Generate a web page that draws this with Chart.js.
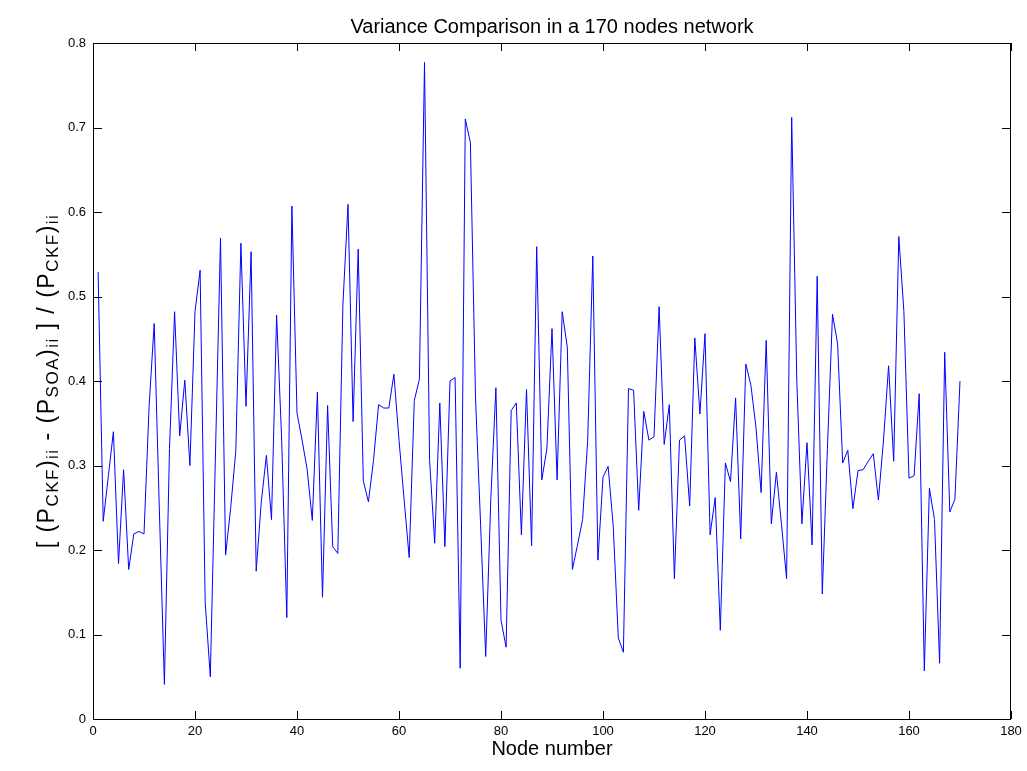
<!DOCTYPE html>
<html>
<head>
<meta charset="utf-8">
<script src="https://cdn.jsdelivr.net/npm/chart.js@4.4.1/dist/chart.umd.min.js"></script>
<style>
  html, body { margin: 0; padding: 0; background: #fff; }
  #wrap { width: 1027px; height: 771px; }
</style>
</head>
<body>
<div id="wrap"><canvas id="chart" width="1027" height="771"></canvas></div>
<script>
// relative variance difference per node
const nodeValues = [
  0.529, 0.234, 0.287, 0.340, 0.184, 0.295, 0.177, 0.219, 0.222, 0.219,
  0.370, 0.468, 0.250, 0.041, 0.320, 0.482, 0.335, 0.401, 0.300, 0.482,
  0.531, 0.138, 0.050, 0.310, 0.569, 0.194, 0.250, 0.317, 0.563, 0.370,
  0.553, 0.175, 0.257, 0.312, 0.236, 0.478, 0.330, 0.120, 0.607, 0.362,
  0.330, 0.295, 0.235, 0.387, 0.144, 0.371, 0.204, 0.196, 0.490, 0.609,
  0.352, 0.556, 0.282, 0.257, 0.306, 0.372, 0.368, 0.368, 0.408, 0.330,
  0.260, 0.191, 0.377, 0.402, 0.777, 0.306, 0.208, 0.374, 0.204, 0.400,
  0.404, 0.060, 0.710, 0.682, 0.380, 0.230, 0.074, 0.260, 0.392, 0.117,
  0.085, 0.365, 0.374, 0.218, 0.390, 0.205, 0.559, 0.283, 0.320, 0.462,
  0.283, 0.482, 0.440, 0.177, 0.206, 0.236, 0.330, 0.548, 0.188, 0.286,
  0.299, 0.229, 0.096, 0.079, 0.391, 0.389, 0.247, 0.364, 0.330, 0.334,
  0.488, 0.325, 0.372, 0.166, 0.330, 0.335, 0.252, 0.451, 0.361, 0.456,
  0.218, 0.262, 0.105, 0.303, 0.281, 0.380, 0.213, 0.420, 0.395, 0.345,
  0.268, 0.448, 0.231, 0.292, 0.230, 0.166, 0.712, 0.400, 0.231, 0.327,
  0.206, 0.524, 0.148, 0.320, 0.479, 0.444, 0.303, 0.318, 0.249, 0.294,
  0.295, 0.305, 0.314, 0.259, 0.330, 0.418, 0.305, 0.571, 0.482, 0.285,
  0.288, 0.385, 0.057, 0.273, 0.236, 0.066, 0.434, 0.245, 0.260, 0.400
];
const nodeNumbers = nodeValues.map((v, i) => i + 1);
const xTicks = [0, 20, 40, 60, 80, 100, 120, 140, 160, 180];
const yTicks = [0, 0.1, 0.2, 0.3, 0.4, 0.5, 0.6, 0.7, 0.8];

const titleText = 'Variance Comparison in a 170 nodes network';
const xLabelText = 'Node number';
// [ (P_CKF)_ii - (P_SOA)_ii ] / (P_CKF)_ii, as text / subscript pieces
const yLabelParts = [
  ['[ (P', false], ['CKF', true], [')', false], ['ii', true],
  [' - (P', false], ['SOA', true], [')', false], ['ii', true],
  [' ] / (P', false], ['CKF', true], [')', false], ['ii', true]
];

const FONT = 'Arial, "Liberation Sans", Helvetica, sans-serif';

// box, inward ticks on all sides, title and axis labels
const matlabFrame = {
  id: 'matlabFrame',
  afterDraw(chart) {
    const { ctx, chartArea: a, scales } = chart;
    ctx.save();
    ctx.strokeStyle = '#000';
    ctx.lineWidth = 1;
    ctx.strokeRect(Math.round(a.left) + 0.5, Math.round(a.top) + 0.5,
      Math.round(a.right - a.left) - 1, Math.round(a.bottom - a.top));

    ctx.beginPath();
    xTicks.forEach(t => {
      const x = Math.round(scales.x.getPixelForValue(t)) + 0.5;
      ctx.moveTo(x, a.bottom); ctx.lineTo(x, a.bottom - 8);
      ctx.moveTo(x, a.top); ctx.lineTo(x, a.top + 8);
    });
    yTicks.forEach(t => {
      const y = Math.round(scales.y.getPixelForValue(t)) + 0.5;
      ctx.moveTo(a.left, y); ctx.lineTo(a.left + 9, y);
      ctx.moveTo(a.right, y); ctx.lineTo(a.right - 9, y);
    });
    ctx.stroke();

    const cx = (a.left + a.right) / 2;
    ctx.fillStyle = '#000';
    ctx.textAlign = 'center';
    ctx.textBaseline = 'middle';
    ctx.font = '20px ' + FONT;
    ctx.fillText(titleText, cx, 27);
    ctx.font = '20px ' + FONT;
    ctx.fillText(xLabelText, cx, 749);

    // rotated y label with subscripts
    const big = '23px ' + FONT, small = '17px ' + FONT;
    ctx.letterSpacing = '1.5px';
    let total = 0;
    yLabelParts.forEach(([s, sub]) => {
      ctx.font = sub ? small : big;
      total += ctx.measureText(s).width;
    });
    ctx.translate(46, (a.top + a.bottom) / 2);
    ctx.rotate(-Math.PI / 2);
    ctx.textAlign = 'left';
    ctx.textBaseline = 'alphabetic';
    let pos = -total / 2;
    yLabelParts.forEach(([s, sub]) => {
      ctx.font = sub ? small : big;
      ctx.fillText(s, pos, sub ? 12 : 8);
      pos += ctx.measureText(s).width;
    });
    ctx.restore();
  }
};

new Chart(document.getElementById('chart'), {
  type: 'line',
  data: {
    labels: nodeNumbers,
    datasets: [{
      data: nodeValues.map((v, i) => ({ x: nodeNumbers[i], y: v })),
      borderColor: '#0000ff',
      borderWidth: 1,
      pointRadius: 0,
      tension: 0,
      fill: false
    }]
  },
  options: {
    responsive: false,
    animation: false,
    layout: { padding: { left: 0, top: 43, right: 16, bottom: 0 } },
    plugins: { legend: { display: false }, tooltip: { enabled: false } },
    scales: {
      x: {
        type: 'linear', min: 0, max: 180,
        afterFit: s => { s.height = 52; },
        afterBuildTicks: s => { s.ticks = xTicks.map(v => ({ value: v })); },
        grid: { display: false, drawTicks: false },
        border: { display: false },
        ticks: { color: '#000', padding: 5, maxRotation: 0, font: { size: 13, family: FONT }, callback: v => String(v) }
      },
      y: {
        min: 0, max: 0.8,
        afterFit: s => { s.width = 93; },
        afterBuildTicks: s => { s.ticks = yTicks.map(v => ({ value: v })); },
        grid: { display: false, drawTicks: false },
        border: { display: false },
        ticks: { color: '#000', padding: 7, font: { size: 13, family: FONT }, callback: v => String(+v.toFixed(1)) }
      }
    }
  },
  plugins: [matlabFrame]
});
</script>
</body>
</html>
